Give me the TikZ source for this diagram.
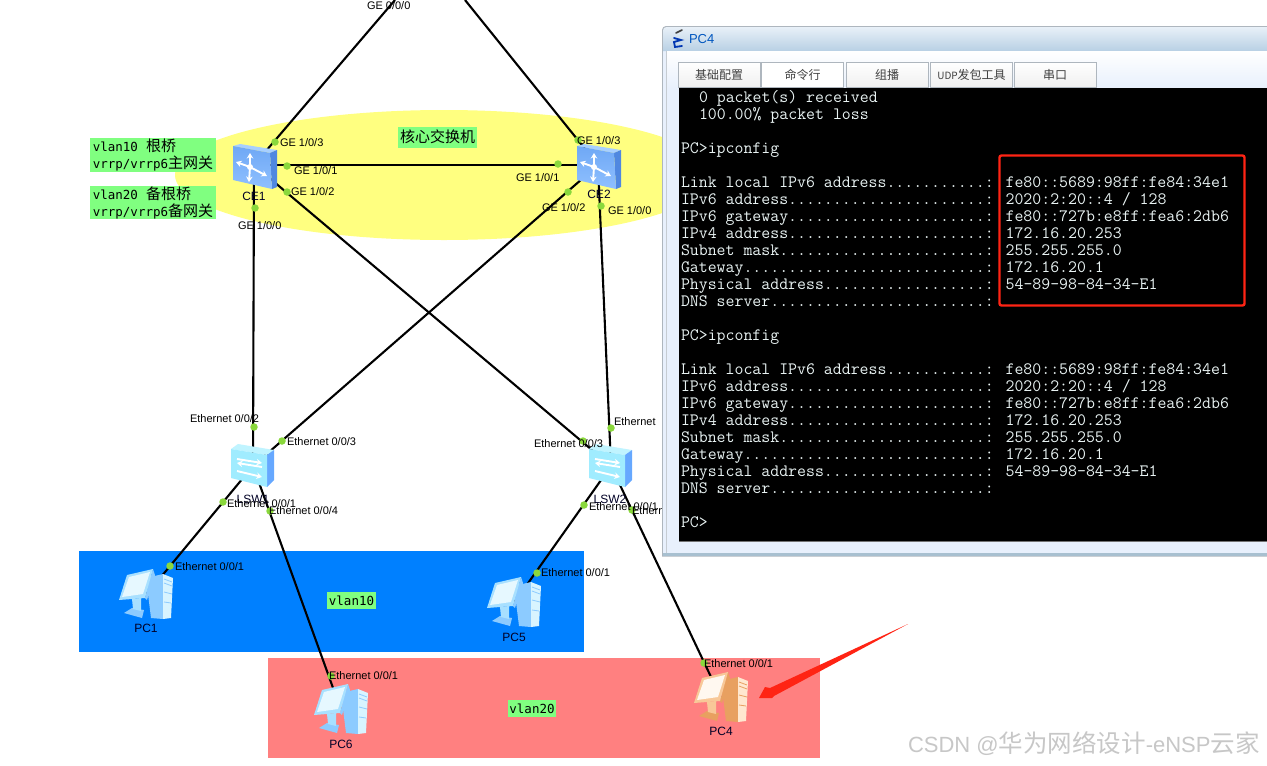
\documentclass[tikz,border=0pt]{standalone}
\usepackage{fontspec}
\setmainfont{Liberation Sans}
\newfontfamily\cjk{Noto Sans CJK SC}
\newfontfamily\gmono{DejaVu Sans Mono}
\usetikzlibrary{arrows.meta,shapes.geometric}
\definecolor{dotgreen}{HTML}{8AD83C}
\definecolor{labgreen}{HTML}{80FF80}
\definecolor{ellyellow}{HTML}{FFFF80}
\definecolor{vblue}{HTML}{0080FF}
\definecolor{vred}{HTML}{FF8080}
\definecolor{termtext}{HTML}{E8F2F2}
\definecolor{redmark}{HTML}{FF2414}
\definecolor{winedge}{HTML}{AEB6BE}
\definecolor{winbody}{HTML}{E8F0FC}
\definecolor{titletop}{HTML}{E8F0F8}
\definecolor{titlebot}{HTML}{B8D0E4}
\definecolor{winfoot}{HTML}{A8C0D0}
\definecolor{coretop}{HTML}{A8D0FF}
\definecolor{coreside}{HTML}{5088E0}
\definecolor{corefa}{HTML}{6FA8F5}
\definecolor{corefb}{HTML}{8FC0FF}
\definecolor{swtop}{HTML}{C0F4FF}
\definecolor{swfront}{HTML}{A0ECFF}
\definecolor{swside}{HTML}{66A8FF}
\definecolor{pcframe}{HTML}{A8E0FF}
\definecolor{pcscreen}{HTML}{E6F8FF}
\definecolor{pctower}{HTML}{D8F4FF}
\definecolor{pcside}{HTML}{8CCBFF}
\definecolor{orframe}{HTML}{F8C898}
\definecolor{orscreen}{HTML}{FFF8F0}
\definecolor{ortower}{HTML}{FFE8D0}
\definecolor{orside}{HTML}{E8A060}
\tikzset{
  x=1pt,y=-1pt,
  anchorpt/.style={inner sep=0pt,outer sep=0pt,minimum size=0pt},
  link/.style={draw=black,line width=2.1pt},
  dotmark/.style={circle,fill=dotgreen,inner sep=0pt,minimum size=7.5pt},
  lbl/.style={inner sep=0pt,outer sep=0pt,anchor=west,font=\fontsize{11}{13}\selectfont,text=black},
  devlbl/.style={inner sep=0pt,outer sep=0pt,anchor=center,font=\fontsize{12}{14}\selectfont,text=black!85!blue},
  greenbox/.style={fill=labgreen,inner sep=0pt,outer sep=0pt,align=left,font=\fontsize{12.5}{17}\selectfont},
  term/.style={inner sep=0pt,outer sep=0pt,anchor=base west,text=termtext,font=\ttfamily\fontsize{17.35}{17}\selectfont},
  tabbox/.style={draw=winedge,line width=0.7pt,top color=white,bottom color=#1,minimum height=25pt,minimum width=82pt,inner sep=0pt,font=\cjk\fontsize{12}{14}\selectfont,text=black!75},
  whitearrow/.style={draw=white,line width=1.9pt,-{Stealth[length=5.5pt,width=6.5pt]}},
  pics/coreicon/.style={code={
    \fill[coretop] (-21,-19)--(-14,-21)--(23,-15)--(16,-12)--cycle;
    \fill[coreside] (16,-12)--(23,-15)--(23,22)--(18,24)--cycle;
    \shade[top color=corefa,bottom color=corefb] (-21,-19)--(16,-12)--(18,24)--(-21,15)--cycle;
    \draw[whitearrow] (-4,2)--(-4,-12);
    \draw[whitearrow] (-4,2)--(-18,-3);
    \draw[whitearrow] (-4,2)--(13,11);
    \draw[whitearrow] (-4,2)--(-5,17);
    \fill[white] (-4,2) circle (3pt);
  }},
  pics/swicon/.style={code={
    \fill[swtop] (-22,-17)--(-15,-22)--(21,-16)--(14,-11)--cycle;
    \fill[swside] (14,-11)--(21,-16)--(21,14)--(14,21)--cycle;
    \fill[swfront] (-22,-17)--(14,-11)--(14,21)--(-22,12)--cycle;
    \draw[whitearrow] (-16,-7)--(9,-3);
    \draw[whitearrow] (9,1)--(-16,-3);
    \draw[whitearrow] (-16,5)--(9,11);
  }},
  pics/pcicon/.style n args={4}{code={
    \fill[#4] (0,-17)--(17,-21)--(17,24)--(5,23)--cycle;
    \fill[#3] (17,-21)--(27,-17)--(25,23)--(17,24)--cycle;
    \draw[#4,line width=0.8pt] (18,-16)--(26,-13) (18,-12)--(26,-9) (18,-3)--(26,-1) (18,7)--(25,8);
    \fill[#4] (-22,18)--(-14,13)--(-2,15)--(-4,23)--cycle;
    \fill[#1] (-14,4)--(-5,3)--(-5,16)--(-13,14)--cycle;
    \fill[#4] (7,-26)--(9,-20)--(1,5)--(-1,3)--cycle;
    \fill[#1] (-19,-20)--(7,-26)--(-1,3)--(-27,5)--cycle;
    \fill[#2] (-17,-18)--(4,-23)--(-3,-1)--(-24,2)--cycle;
  }}
}
\newcommand{\termline}[3]{\node[term] (t#1) at (#2,#1+5.5) {#3};}
\begin{document}
\begin{tikzpicture}
\useasboundingbox (0,0) rectangle (1267,766);
\fill[white] (0,0) rectangle (1267,766);
% background zones
\node[ellipse,fill=ellyellow,inner sep=0pt,minimum width=538pt,minimum height=130pt] (core) at (444,175) {};
\node[fill=vblue,inner sep=0pt,minimum width=505pt,minimum height=101pt] (zone10) at (331.5,601.5) {};
\node[fill=vred,inner sep=0pt,minimum width=552pt,minimum height=100pt] (zone20) at (544,708) {};
% device anchors
\node[anchorpt] (topA) at (395,0) {};
\node[anchorpt] (topB) at (465,0) {};
\node[anchorpt] (CE1) at (254,165) {};
\node[anchorpt] (CE2) at (598,165) {};
\node[anchorpt] (LSW1) at (253,466) {};
\node[anchorpt] (LSW2) at (611,466) {};
\node[anchorpt] (PC1) at (146,595) {};
\node[anchorpt] (PC5) at (514,603) {};
\node[anchorpt] (PC6) at (341,710) {};
\node[anchorpt] (PC4) at (721,698) {};
% connectors
\draw[link] (topA.center)--(CE1.center);
\draw[link] (topB.center)--(CE2.center);
\draw[link] (CE1.center)--(CE2.center);
\draw[link] (CE1.center)--(LSW1.center);
\draw[link] (CE2.center)--(LSW2.center);
\draw[link] (CE1.center)--(LSW2.center);
\draw[link] (CE2.center)--(LSW1.center);
\draw[link] (LSW1.center)--(PC1.center);
\draw[link] (LSW1.center)--(PC6.center);
\draw[link] (LSW2.center)--(PC5.center);
\draw[link] (LSW2.center)--(PC4.center);
% port dots
\foreach \n/\p in {a/{275,142},b/{287,166},c/{287,192},d/{255,208},e/{578,140},f/{558,164},g/{568,192},h/{601,206},i/{254,427},j/{282,441},k/{223,502},l/{270,511},m/{611,428},n/{583,441},o/{584,505},q/{632,510},r/{170,566},s/{537,573},u/{331,676},v/{704,663}}
  \node[dotmark] (dot\n) at (\p) {};
% icons
\pic at (CE1) {coreicon};
\pic at (CE2) {coreicon};
\pic at (LSW1) {swicon};
\pic at (LSW2) {swicon};
\pic at (PC1) {pcicon={pcframe}{pcscreen}{pctower}{pcside}};
\pic at (PC5) {pcicon={pcframe}{pcscreen}{pctower}{pcside}};
\pic at (PC6) {pcicon={pcframe}{pcscreen}{pctower}{pcside}};
\pic at (PC4) {pcicon={orframe}{orscreen}{ortower}{orside}};
% device names
\node[devlbl] (nCE1) at (254,196) {CE1};
\node[devlbl] (nCE2) at (599,194) {CE2};
\node[devlbl] (nLSW1) at (253,499) {LSW1};
\node[devlbl] (nLSW2) at (610,499) {LSW2};
\node[devlbl] (nPC1) at (146,628) {PC1};
\node[devlbl] (nPC5) at (514,637) {PC5};
\node[devlbl] (nPC6) at (341,744) {PC6};
\node[devlbl] (nPC4) at (721,731) {PC4};
% port labels
\node[lbl] (p0) at (367,6) {GE 0/0/0};
\node[lbl] (p1) at (280,143) {GE 1/0/3};
\node[lbl] (p2) at (294,171) {GE 1/0/1};
\node[lbl] (p3) at (291,192) {GE 1/0/2};
\node[lbl] (p4) at (238,226) {GE 1/0/0};
\node[lbl] (p5) at (577,141) {GE 1/0/3};
\node[lbl] (p6) at (516,178) {GE 1/0/1};
\node[lbl] (p7) at (542,208) {GE 1/0/2};
\node[lbl] (p8) at (608,211) {GE 1/0/0};
\node[lbl] (p9) at (190,419) {Ethernet 0/0/2};
\node[lbl] (p10) at (287,442) {Ethernet 0/0/3};
\node[lbl] (p11) at (227,504) {Ethernet 0/0/1};
\node[lbl] (p12) at (269,511) {Ethernet 0/0/4};
\node[lbl] (p13) at (614,422) {Ethernet};
\node[lbl] (p14) at (534,444) {Ethernet 0/0/3};
\node[lbl] (p15) at (589,507) {Ethernet 0/0/1};
\node[lbl] (p16) at (632,511) {Ethern};
\node[lbl] (p17) at (175,567) {Ethernet 0/0/1};
\node[lbl] (p18) at (541,573) {Ethernet 0/0/1};
\node[lbl] (p19) at (329,676) {Ethernet 0/0/1};
\node[lbl] (p20) at (704,664) {Ethernet 0/0/1};
% green notes
\node[greenbox,minimum width=126pt,minimum height=34pt] (note1) at (153,155) {{\gmono vlan10}\hspace{8pt}{\cjk\fontsize{15}{17}\selectfont 根桥}\\{\gmono vrrp/vrrp6}{\cjk\fontsize{15}{17}\selectfont 主网关}};
\node[greenbox,minimum width=126pt,minimum height=33pt] (note2) at (153,202.5) {{\gmono vlan20}\hspace{8pt}{\cjk\fontsize{15}{17}\selectfont 备根桥}\\{\gmono vrrp/vrrp6}{\cjk\fontsize{15}{17}\selectfont 备网关}};
\node[greenbox,minimum width=79pt,minimum height=21pt,align=center] (note3) at (437.5,137) {\cjk\fontsize{15}{17}\selectfont 核心交换机};
\node[greenbox,minimum width=49pt,minimum height=17pt,align=center] (note4) at (351.5,600.5) {\gmono vlan10};
\node[greenbox,minimum width=48pt,minimum height=17pt,align=center] (note5) at (532,708.5) {\gmono vlan20};
% window
\fill[winedge] (662,556.5) [rounded corners=4pt] -- (662,26) [sharp corners] -- (1267,26) -- (1267,556.5) -- cycle;
\fill[winbody] (663,51) rectangle (1267,553);
\shade[top color=titletop,bottom color=titlebot] (663,51) [rounded corners=3.5pt] -- (663,27) [sharp corners] -- (1267,27) -- (1267,51) -- cycle;
\shade[top color=white,bottom color=winbody] (667,51) rectangle (1267,88);
\fill[winfoot] (663,552.5) rectangle (1267,556);
\fill[winedge!70!white] (666,51) rectangle (667,552.5);
\node[tabbox=black!6] (tab1) at (719,74.5) {基础配置};
\node[tabbox=white] (tab2) at (802.5,74.5) {命令行};
\node[tabbox=black!6] (tab3) at (887,74.5) {组播};
\node[tabbox=black!6] (tab4) at (971.5,74.5) {{\fontsize{10}{12}\selectfont UDP}发包工具};
\node[tabbox=black!6] (tab5) at (1055,74.5) {串口};
\fill[black] (679,87.5) rectangle (1267,541);
\draw[black!55,line width=0.6pt] (679,541)--(1267,541);
% title icon and title
\draw[blue!70!cyan!70!black,line width=1.8pt,line cap=round] (674,38)--(681,40)--(674,42)--(675,47)--(682,46);
\draw[black!75,line width=1.6pt,line cap=round] (676,33)--(682,30);
\node[inner sep=0pt,outer sep=0pt,anchor=west,font=\fontsize{13}{15}\selectfont,text=blue!55!cyan!75!black] (wtitle) at (689,39.5) {PC4};
% terminal text
\termline{97}{699}{0 packet(s) received}
\termline{114}{699}{100.00\% packet loss}
\termline{148}{681}{PC>ipconfig}
\termline{182}{681}{Link local IPv6 address...........: fe80::5689:98ff:fe84:34e1}
\termline{199}{681}{IPv6 address......................: 2020:2:20::4 / 128}
\termline{216}{681}{IPv6 gateway......................: fe80::727b:e8ff:fea6:2db6}
\termline{233}{681}{IPv4 address......................: 172.16.20.253}
\termline{250}{681}{Subnet mask.......................: 255.255.255.0}
\termline{267}{681}{Gateway...........................: 172.16.20.1}
\termline{284}{681}{Physical address..................: 54-89-98-84-34-E1}
\termline{301}{681}{DNS server........................:}
\termline{335}{681}{PC>ipconfig}
\termline{369}{681}{Link local IPv6 address...........: fe80::5689:98ff:fe84:34e1}
\termline{386}{681}{IPv6 address......................: 2020:2:20::4 / 128}
\termline{403}{681}{IPv6 gateway......................: fe80::727b:e8ff:fea6:2db6}
\termline{420}{681}{IPv4 address......................: 172.16.20.253}
\termline{437}{681}{Subnet mask.......................: 255.255.255.0}
\termline{454}{681}{Gateway...........................: 172.16.20.1}
\termline{471}{681}{Physical address..................: 54-89-98-84-34-E1}
\termline{488}{681}{DNS server........................:}
\termline{522}{681}{PC>}
% red highlight and arrow
\draw[redmark,line width=2.4pt,rounded corners=2pt] (999.5,155.5) rectangle (1244.5,305.5);
\fill[redmark] (908,624)--(770,688)--(765,687)--(759,698)--(772,698)--(774,696)--cycle;
% watermark
\node[inner sep=0pt,outer sep=0pt,anchor=west,text=black!22,font=\fontsize{22}{26}\selectfont] (wm) at (908,744) {CSDN @{\cjk\fontsize{24.5}{26}\selectfont 华为网络设计}-eNSP{\cjk\fontsize{24.5}{26}\selectfont 云家}};
\end{tikzpicture}
\end{document}
